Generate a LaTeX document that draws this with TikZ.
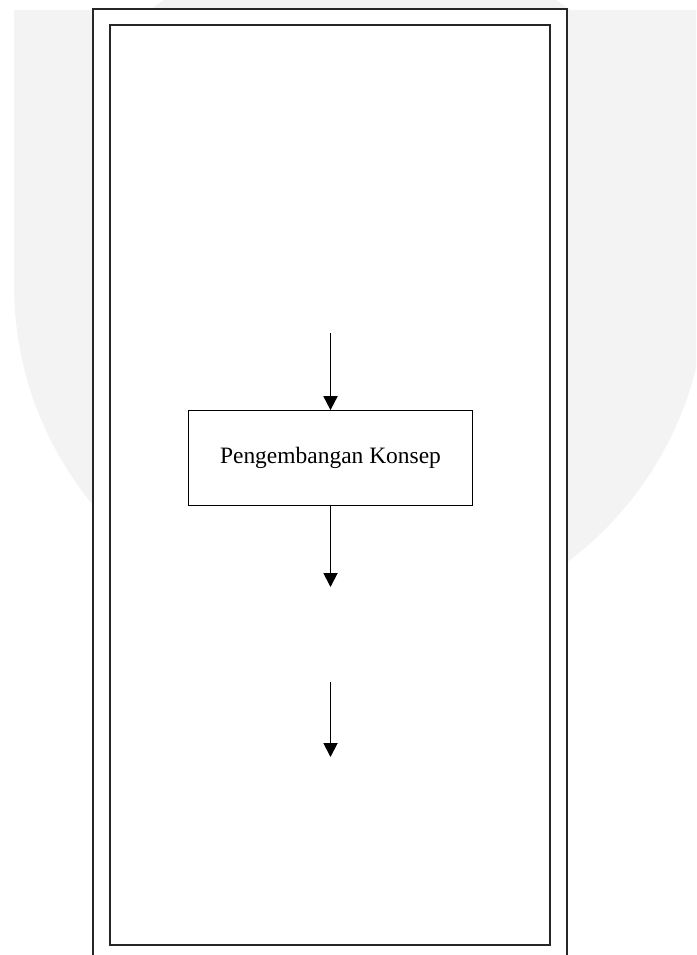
\documentclass[tikz,border=0pt]{standalone}
\usepackage{fontspec}
\setmainfont{Liberation Serif}
\usetikzlibrary{arrows.meta}
\definecolor{watermark}{HTML}{F3F3F3}

\begin{document}
\begin{tikzpicture}
        [x=0.75pt, y=-0.75pt,
        every node/.style={draw, rectangle, fill=white, line width=0.8pt, minimum width=213pt, minimum height=71pt, font=\fontsize{17.6}{20}\selectfont},
        frame/.style={draw=black!85, line width=0.8pt},
        flow/.style={-{Triangle[width=10.5pt,length=10.5pt]}, line width=1.4pt, black}]

        \useasboundingbox (0,0) rectangle (696,955);
        \clip (0,0) rectangle (696,955);
        \fill[watermark] (14,10) rectangle (706,285);
        \fill[watermark] (360,285) circle (259.5pt);
        \draw[frame, fill=white] (93,9) rectangle (567,975);
        \draw[frame] (110,25) rectangle (550,945);

        \node (konsep) at (330.5,458) {Pengembangan Konsep};
        \coordinate (masuk) at (330.5,333);
        \coordinate (keluar) at (330.5,587);
        \coordinate (lanjut) at (330.5,682);
        \coordinate (akhir) at (330.5,757);

        \draw[flow] (masuk) -- (konsep);
        \draw[flow] (konsep) -- (keluar);
        \draw[flow] (lanjut) -- (akhir);

      \end{tikzpicture}
\end{document}
